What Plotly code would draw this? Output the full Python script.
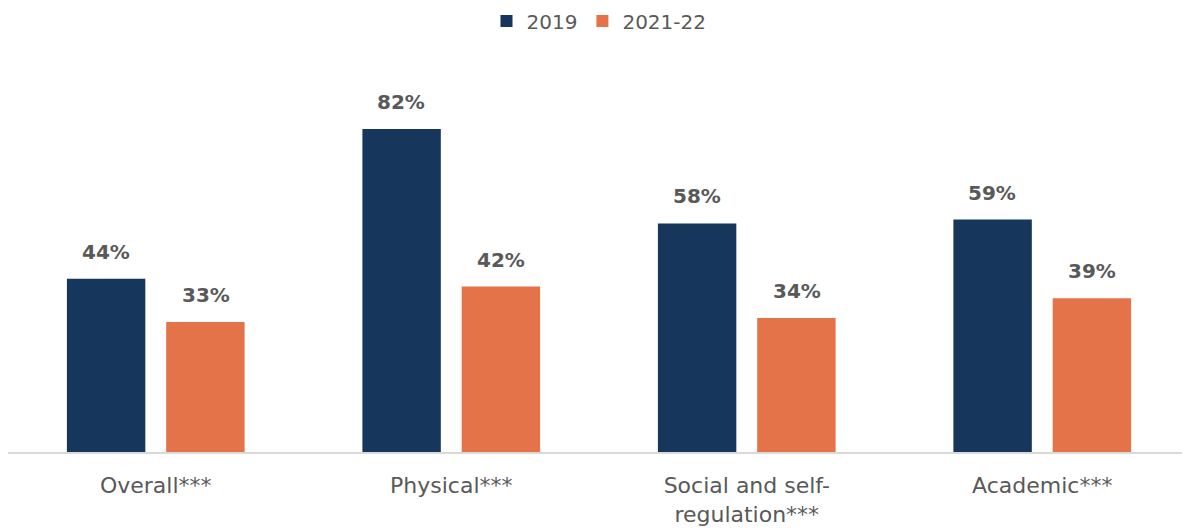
import plotly.graph_objects as go

categories = ["Overall***", "Physical***", "Social and self-<br>regulation***", "Academic***"]
series_names = ["2019", "2021-22"]
values_2019 = [44, 82, 58, 59]
values_2122 = [33, 42, 34, 39]
colors = ["#16365C", "#E5734A"]

fig = go.Figure()
for name, vals, col in zip(series_names, [values_2019, values_2122], colors):
    fig.add_trace(go.Bar(
        x=categories, y=vals, name=name, marker_color=col,
        marker_line_width=0,
    ))

# value labels above each bar
for i, vals in enumerate([values_2019, values_2122]):
    shift = -50 if i == 0 else 50
    for cat, v in zip(categories, vals):
        fig.add_annotation(
            x=cat, y=v, xref="x", yref="y", text=f"{v}%", showarrow=False,
            xshift=shift, yshift=27, yanchor="middle",
            font=dict(family="DejaVu Sans", size=20, color="#595959", weight="bold"),
        )

fig.update_layout(
    width=1182, height=523,
    margin=dict(l=0, r=0, t=50, b=79, autoexpand=False),
    paper_bgcolor="white", plot_bgcolor="white",
    barmode="group", bargap=0.328, bargroupgap=0.21,
    showlegend=True,
    legend=dict(orientation="h", x=0.5, xanchor="center", y=1.094, yanchor="middle",
                font=dict(family="DejaVu Sans", size=20, color="#595959"),
                traceorder="normal"),
)
fig.update_xaxes(
    showline=True, linecolor="#D9D9D9", linewidth=2,
    ticks="outside", ticklen=13, tickcolor="rgba(0,0,0,0)",
    tickfont=dict(family="DejaVu Sans", size=22, color="#595959"),
    showgrid=False, automargin=False,
)
fig.update_yaxes(range=[0, 100], visible=False, showgrid=False, automargin=False)

fig.write_html("out.html")
